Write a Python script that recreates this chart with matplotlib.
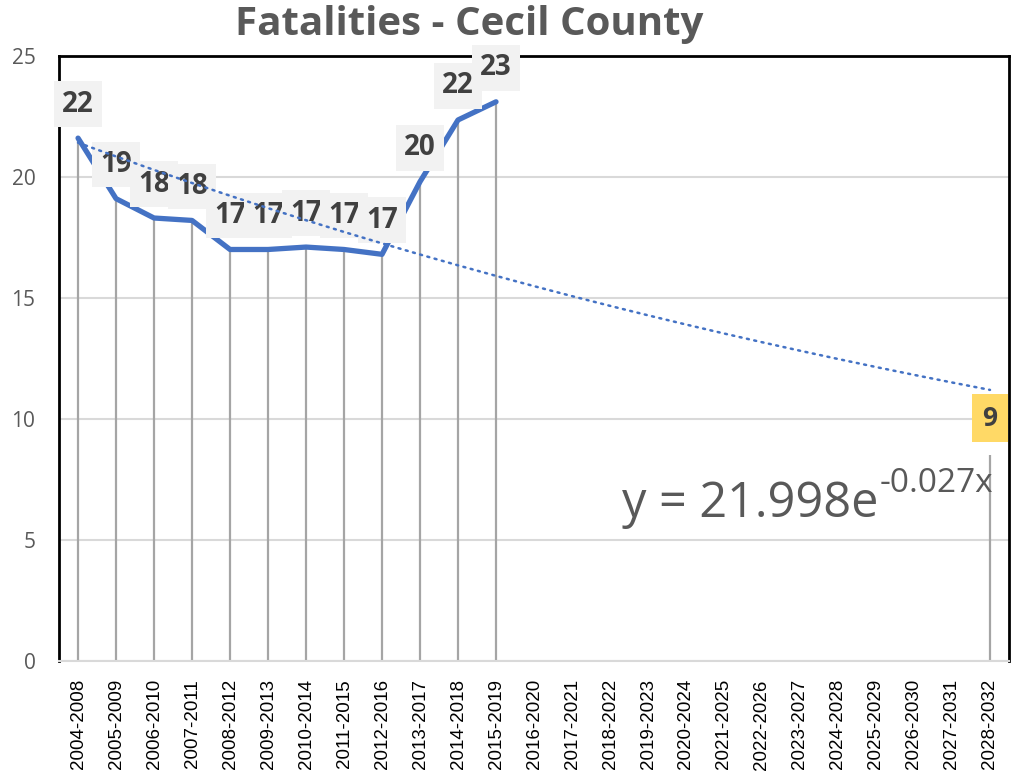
import numpy as np
import matplotlib
matplotlib.use("Agg")
import matplotlib.pyplot as plt

# 5-year rolling periods
periods = ["2004-2008", "2005-2009", "2006-2010", "2007-2011", "2008-2012",
           "2009-2013", "2010-2014", "2011-2015", "2012-2016", "2013-2017",
           "2014-2018", "2015-2019", "2016-2020", "2017-2021", "2018-2022",
           "2019-2023", "2020-2024", "2021-2025", "2022-2026", "2023-2027",
           "2024-2028", "2025-2029", "2026-2030", "2027-2031", "2028-2032"]
fatalities = [21.6, 19.1, 18.3, 18.2, 17.0, 17.0, 17.1, 17.0, 16.8, 19.8, 22.35, 23.1]
target_period = "2028-2032"
target_value = 8.5
# exponential trendline as shown on chart: y = a * exp(b * x), x = 1..n
trend_a = 21.998
trend_b = -0.027

BLUE = "#4472C4"
DROP = "#A5A5A5"
GRID = "#D9D9D9"
TXT = "#595959"

fig = plt.figure(figsize=(10.11, 7.75), dpi=100)
ax = fig.add_axes([0.0584, 0.147, 0.9396, 0.781])

x = np.arange(len(fatalities))
x_all = np.arange(len(periods))
xt = periods.index(target_period)

# drop lines
ax.vlines(x, 0, fatalities, color=DROP, lw=1.6, zorder=2)
ax.vlines(xt, 0, target_value, color=DROP, lw=1.6, zorder=2)

ax.plot(x, fatalities, color=BLUE, lw=3.8, solid_capstyle="round",
        solid_joinstyle="round", zorder=3)

trend = trend_a * np.exp(trend_b * (x_all + 1))
ax.plot(x_all, trend, color=BLUE, lw=1.8, ls=(0, (0.8, 2.2)),
        dash_capstyle="round", zorder=5)

def lab(v):
    return str(int(v + 0.5))

for xi, v in zip(x, fatalities):
    ax.annotate(lab(v), (xi, v), xytext=(0, 34), textcoords="offset pixels",
                ha="center", va="center", fontsize=20, fontweight="bold",
                family="Open Sans", color="#404040", zorder=4,
                bbox=dict(boxstyle="square,pad=0.3", fc="#F2F2F2", ec="none"))
ax.annotate(lab(target_value), (xt, target_value), xytext=(0, 37),
            textcoords="offset pixels", ha="center", va="center", fontsize=19,
            fontweight="bold", family="Open Sans", color="#404040", zorder=4,
            bbox=dict(boxstyle="square,pad=0.4", fc="#FFD966", ec="none"))

# trendline equation, superscript placed after the main text
eq = fig.text(622 / 1011, 1 - 517 / 775, "y = %.3fe" % trend_a, ha="left",
              va="baseline", fontsize=35, family="Open Sans", color=TXT)
fig.canvas.draw()
bb = eq.get_window_extent()
fig.text(bb.x1 / 1011 + 0.001, 1 - 517 / 775 + 0.032, "%.3fx" % trend_b,
         ha="left", va="baseline", fontsize=24, family="Open Sans", color=TXT)

ax.set_xlim(-0.5, len(periods) - 0.5)
ax.set_ylim(0, 25)
ax.set_yticks([0, 5, 10, 15, 20, 25])
ax.set_xticks(x_all)
ax.set_xticklabels(periods, rotation=90, fontsize=13.5, family="Liberation Sans",
                   color="black")
ax.tick_params(axis="x", length=0, pad=13)
ax.tick_params(axis="y", length=0, pad=17, labelsize=15, labelcolor=TXT)
for t in ax.get_yticklabels():
    t.set_family("Open Sans")
ax.grid(axis="y", color=GRID, lw=1.5, zorder=0)
ax.set_axisbelow(True)
for s in ["left", "top", "right"]:
    ax.spines[s].set_color("black")
    ax.spines[s].set_linewidth(2)
ax.spines["bottom"].set_color(GRID)
ax.spines["bottom"].set_linewidth(1.5)

fig.text(0.464, 0.968, "Fatalities - Cecil County", ha="center", va="center",
         fontsize=29, fontweight="bold", family="Open Sans", color=TXT)

fig.savefig("out.png", dpi=100)
